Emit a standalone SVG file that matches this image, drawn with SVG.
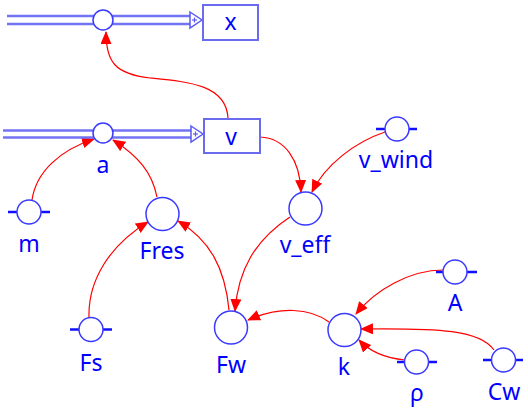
<svg xmlns="http://www.w3.org/2000/svg" width="528" height="413" viewBox="0 0 528 413">
<defs>
<style>
.pipe{fill:none;stroke:#7373f5;stroke-width:2.5}
.box{fill:#fff;stroke:#6b6bf0;stroke-width:2}
.valve{fill:#fff;stroke:#3a3aff;stroke-width:1.5}
.aux{fill:#fff;stroke:#3a3aff;stroke-width:1.5}
.tab{stroke:#1010ff;stroke-width:2.5}
.lbl{font-family:"Noto Sans","Open Sans",sans-serif;font-size:23px;fill:#0000ff;text-anchor:middle}
.head{fill:#fff;stroke:#5a5af5;stroke-width:1.5}
.plus{stroke:#5a5af5;stroke-width:1.2}
.link{fill:none;stroke:#ff0000;stroke-width:1.2;marker-end:url(#arr)}
</style>
<marker id="arr" viewBox="0 0 13 11" refX="12" refY="5.5" markerWidth="13" markerHeight="11" markerUnits="userSpaceOnUse" orient="auto">
<path d="M0,0 L13,5.5 L0,11 Z" fill="#ff0000"/>
</marker>
</defs>
<g id="connectors">
<path class="link" d="M228,118 C226,85 190,82 150,78 C115,74 106,62 106,32"/>
<path class="link" d="M32,200 C36,172 60,150 94,139"/>
<path class="link" d="M157,197 C152,172 138,156 113,140"/>
<path class="link" d="M89,317 C88,280 110,245 148,222"/>
<path class="link" d="M229,310 C225,268 210,240 178,221"/>
<path class="link" d="M260,137 C285,138 300,160 301,192"/>
<path class="link" d="M385,132 C355,142 325,165 312,192"/>
<path class="link" d="M290,217 C255,240 238,270 235,311"/>
<path class="link" d="M329,322 C310,308 280,306 248,320"/>
<path class="link" d="M443,270 C410,270 375,290 356,314"/>
<path class="link" d="M405,360 C385,358 370,352 359,340"/>
<path class="link" d="M494,350 C480,330 440,328 361,329"/>
</g>
<g id="flow_x">
<line class="pipe" x1="7" y1="16" x2="190" y2="16"/>
<line class="pipe" x1="7" y1="24" x2="190" y2="24"/>
<polygon class="head" points="190,12 202,20 190,28"/>
<line class="plus" x1="192" y1="20" x2="197" y2="20"/>
<line class="plus" x1="194.5" y1="17.5" x2="194.5" y2="22.5"/>
<circle class="valve" cx="103" cy="20" r="10"/>
</g>
<g id="x">
<rect class="box" x="203" y="5" width="55" height="35"/>
<text class="lbl" x="230.5" y="30">x</text>
</g>
<g id="a">
<line class="pipe" x1="3" y1="130.5" x2="191" y2="130.5"/>
<line class="pipe" x1="3" y1="137.5" x2="191" y2="137.5"/>
<polygon class="head" points="191,126 203,134 191,142"/>
<line class="plus" x1="193" y1="134" x2="198" y2="134"/>
<line class="plus" x1="195.5" y1="131.5" x2="195.5" y2="136.5"/>
<circle class="valve" cx="103" cy="133" r="10"/>
<text class="lbl" x="103" y="173">a</text>
</g>
<g id="v">
<rect class="box" x="204" y="119" width="56" height="34"/>
<text class="lbl" x="231" y="145">v</text>
</g>
<g id="m">
<line class="tab" x1="8" y1="212" x2="50" y2="212"/>
<circle class="aux" cx="29" cy="212" r="12"/>
<text class="lbl" x="29" y="252">m</text>
</g>
<g id="Fres">
<circle class="aux" cx="162.5" cy="214" r="16.5"/>
<text class="lbl" x="162" y="259">Fres</text>
</g>
<g id="Fs">
<line class="tab" x1="70" y1="329.5" x2="112" y2="329.5"/>
<circle class="aux" cx="91" cy="329.5" r="12"/>
<text class="lbl" x="91" y="371">Fs</text>
</g>
<g id="Fw">
<circle class="aux" cx="231" cy="327.5" r="16.5"/>
<text class="lbl" x="231" y="373">Fw</text>
</g>
<g id="v_eff">
<circle class="aux" cx="305.5" cy="208.5" r="16.5"/>
<text class="lbl" x="305" y="253">v_eff</text>
</g>
<g id="v_wind">
<line class="tab" x1="376" y1="129" x2="417" y2="129"/>
<circle class="aux" cx="397" cy="129" r="12"/>
<text class="lbl" x="396" y="168">v_wind</text>
</g>
<g id="k">
<circle class="aux" cx="344.5" cy="330" r="16.5"/>
<text class="lbl" x="344" y="375">k</text>
</g>
<g id="A">
<line class="tab" x1="436" y1="272" x2="477" y2="272"/>
<circle class="aux" cx="455" cy="272" r="12"/>
<text class="lbl" x="455" y="311">A</text>
</g>
<g id="rho">
<line class="tab" x1="397" y1="362" x2="437" y2="362"/>
<circle class="aux" cx="416.5" cy="362" r="12"/>
<text class="lbl" x="417" y="401">ρ</text>
</g>
<g id="Cw">
<line class="tab" x1="483" y1="360" x2="523" y2="360"/>
<circle class="aux" cx="503.5" cy="360" r="12"/>
<text class="lbl" x="504" y="400">Cw</text>
</g>
</svg>
